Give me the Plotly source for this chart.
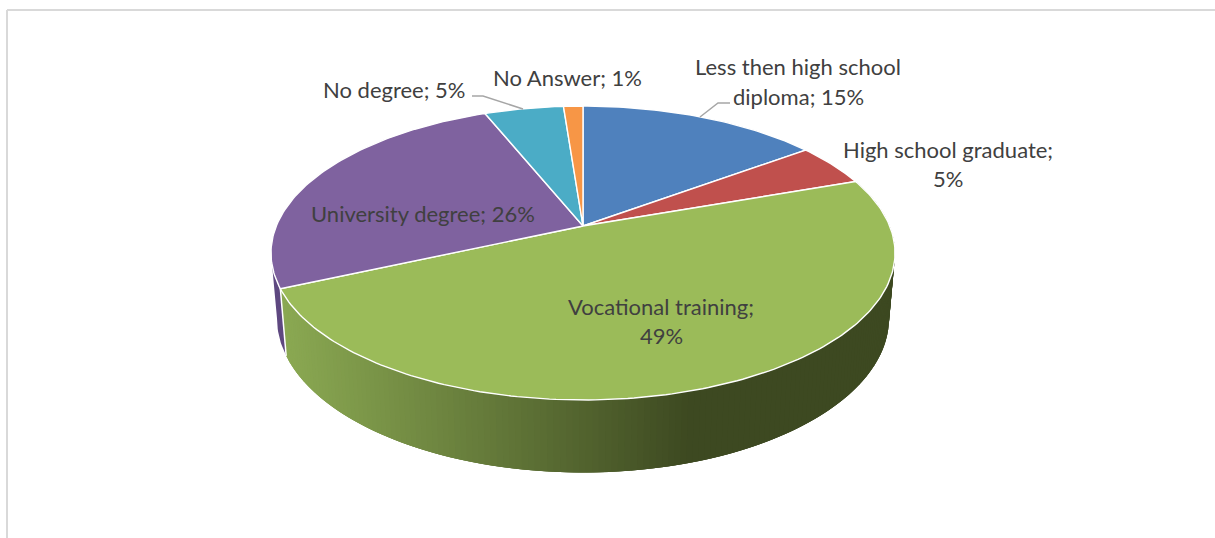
import numpy as np
import plotly.graph_objects as go

# Data (share of the pie, percent)
categories = ["Less then high school diploma", "High school graduate", "Vocational training",
              "University degree", "No degree", "No Answer"]
values = [14.9, 4.7, 48.7, 25.6, 4.9, 1.2]
top_colors = ["#4F81BD", "#C0504D", "#9BBB59", "#7F629F", "#4BACC6", "#F79646"]
side_colors = [None, None, "gradient", "#5E4880", None, None]

# Label text, one entry per printed line, with its page position
label_lines = ["Less then high school", "diploma; 15%", "High school graduate;", "5%",
               "Vocational training;", "49%", "University degree; 26%", "No degree; 5%", "No Answer; 1%"]
label_x = [798, 798, 948, 948, 661, 661, 423, 394, 567]
label_y = [66, 96, 149, 178, 306, 335, 213, 89, 77]
leaders = [([472, 483, 523], [96, 96, 109]), ([730, 718, 700], [103, 103, 117])]

# Perspective projection of the pie disc onto the page
CX = 583
K = 0.1837
TOP = dict(cy=226, A=142.0, B=306.7)
BOTTOM = dict(cy=290, A=149.0, B=300.8)
LEFT_SILHOUETTE = np.pi + np.arccos(K) - 0.0  # angle where the disc is widest on the left


def project(theta, disc):
    s, t = np.sin(theta), np.cos(theta)
    d = 1 + K * t
    return CX + disc["B"] * s / d, disc["cy"] - disc["A"] * t / d


def arc(a0, a1, disc):
    n = max(2, int(np.degrees(a1 - a0)) + 2)
    return project(np.linspace(a0, a1, n), disc)


def green_shade(x):
    f = np.clip((x - 285) / (676 - 285), 0, 1)
    c0, c1 = np.array([138, 168, 82]), np.array([61, 73, 33])
    r, g, b = (c0 + (c1 - c0) * f).astype(int)
    return f"rgb({r},{g},{b})"


fig = go.Figure()
shares = np.array(values) / sum(values)
edges = np.concatenate([[0], np.cumsum(shares)]) * 2 * np.pi


def add_fill(x, y, color):
    fig.add_trace(go.Scatter(x=x, y=y, mode="lines", fill="toself", fillcolor=color,
                             line=dict(color=color, width=0),
                             hoverinfo="skip", showlegend=False))


# Side walls (only the slices that reach the front of the pie)
STEP = 1.0
for i, side in enumerate(side_colors):
    if side is None:
        continue
    a0, a1 = edges[i], edges[i + 1]
    if side == "gradient":
        # each strip runs under the one painted before it, so no seam shows through
        steps = np.radians(np.arange(np.degrees(a0), np.degrees(a1) + STEP, STEP))
        steps[-1] = a1
        for u, v in zip(steps[:-1], steps[1:]):
            ends = np.array([u - np.radians(2 * STEP), v])
            ends[0] = max(ends[0], a0)
            xt, yt = project(ends, TOP)
            xb, yb = project(ends[::-1], BOTTOM)
            add_fill(np.r_[xt, xb, xt[0]], np.r_[yt, yb, yt[0]], green_shade((xt[1] + xb[0]) / 2))
    else:
        xt, yt = arc(a0, LEFT_SILHOUETTE, TOP)
        xb, yb = arc(a0, LEFT_SILHOUETTE, BOTTOM)
        add_fill(np.r_[xt, xb[::-1], xt[0]], np.r_[yt, yb[::-1], yt[0]], side)

# White seam where the green wall meets the purple wall
xs, ys = project(np.array([edges[3], edges[3]]), TOP)
xb, yb = project(np.array([edges[3], edges[3]]), BOTTOM)
fig.add_trace(go.Scatter(x=[xs[0], xb[0]], y=[ys[0], yb[0]], mode="lines",
                         line=dict(color="white", width=1.5), hoverinfo="skip", showlegend=False))

# Top faces
apex_x, apex_y = CX, TOP["cy"]
for i, name in enumerate(categories):
    x, y = arc(edges[i], edges[i + 1], TOP)
    fig.add_trace(go.Scatter(x=np.r_[apex_x, x, apex_x], y=np.r_[apex_y, y, apex_y], mode="lines",
                             fill="toself", fillcolor=top_colors[i], name=name,
                             line=dict(color="white", width=1.4), hoverinfo="name", showlegend=False))

# Leader lines
for lx, ly in leaders:
    fig.add_trace(go.Scatter(x=lx, y=ly, mode="lines", line=dict(color="#A6A6A6", width=1.5),
                             hoverinfo="skip", showlegend=False))

for text, x, y in zip(label_lines, label_x, label_y):
    fig.add_annotation(x=x, y=y, text=text, showarrow=False, xanchor="center", yanchor="middle",
                       font=dict(family="Lato", size=22, color="#404040"))

# Chart-area frame, only top and left edges are in view
fig.add_shape(type="line", x0=7, x1=1215, y0=10, y1=10, line=dict(color="#D9D9D9", width=2))
fig.add_shape(type="line", x0=7, x1=7, y0=10, y1=538, line=dict(color="#D9D9D9", width=2))

fig.update_layout(width=1215, height=538, margin=dict(l=0, r=0, t=0, b=0), paper_bgcolor="white",
                  plot_bgcolor="white", showlegend=False,
                  xaxis=dict(range=[0, 1215], visible=False, domain=[0, 1]),
                  yaxis=dict(range=[538, 0], visible=False, domain=[0, 1]))
fig.write_html("out.html", config=dict(displayModeBar=False),
               post_script="document.body.style.margin='0';document.body.style.overflow='hidden';")
